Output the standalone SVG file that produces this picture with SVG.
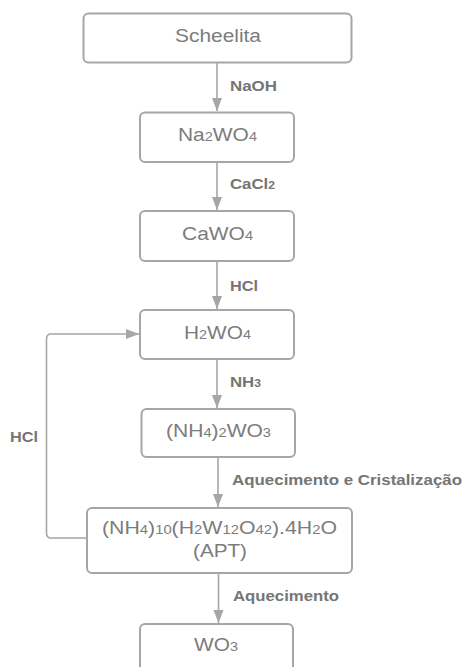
<svg xmlns="http://www.w3.org/2000/svg" width="463" height="667" viewBox="0 0 463 667">
<style>
.box{fill:#fff;stroke:#a6a6a6;stroke-width:2}
.nt{font-family:"Liberation Sans",Arial,sans-serif;font-size:18px;fill:#7c7c7c}
.lb{font-family:"Liberation Sans",Arial,sans-serif;font-size:14.5px;font-weight:bold;fill:#757575}
.sub{font-size:12.5px}
.sb{font-size:10.5px}
.cn{fill:none;stroke:#a6a6a6;stroke-width:1.6}
</style>
<defs>
<marker id="ah" markerUnits="userSpaceOnUse" markerWidth="14" markerHeight="12" refX="13" refY="5" orient="auto">
<path d="M0,0 L13,5 L0,10 Z" fill="#a6a6a6"/>
</marker>
</defs>
<rect width="463" height="667" fill="#fff"/>
<g id="connectors">
<line class="cn" x1="217" y1="63" x2="217" y2="111" marker-end="url(#ah)"/>
<line class="cn" x1="217" y1="162" x2="217" y2="210" marker-end="url(#ah)"/>
<line class="cn" x1="217" y1="261" x2="217" y2="309" marker-end="url(#ah)"/>
<line class="cn" x1="217" y1="359" x2="217" y2="408" marker-end="url(#ah)"/>
<line class="cn" x1="218" y1="457" x2="218" y2="507" marker-end="url(#ah)"/>
<line class="cn" x1="218.5" y1="573" x2="218.5" y2="623" marker-end="url(#ah)"/>
<path class="cn" d="M87,538 H51 Q46.5,538 46.5,533 V339 Q46.5,334 51,334 H139" marker-end="url(#ah)"/>
<text class="lb" x="230" y="91" textLength="47" lengthAdjust="spacingAndGlyphs">NaOH</text>
<text class="lb" x="230" y="189" textLength="45" lengthAdjust="spacingAndGlyphs">CaCl<tspan class="sb">2</tspan></text>
<text class="lb" x="230" y="291" textLength="28" lengthAdjust="spacingAndGlyphs">HCl</text>
<text class="lb" x="230" y="387" textLength="31" lengthAdjust="spacingAndGlyphs">NH<tspan class="sb">3</tspan></text>
<text class="lb" x="10" y="442" textLength="28" lengthAdjust="spacingAndGlyphs">HCl</text>
<text class="lb" x="232" y="485" textLength="230" lengthAdjust="spacingAndGlyphs">Aquecimento e Cristalização</text>
<text class="lb" x="233" y="601" textLength="106" lengthAdjust="spacingAndGlyphs">Aquecimento</text>
</g>
<g id="n1">
<rect class="box" x="83.5" y="13.5" width="268" height="49" rx="5"/>
<text class="nt" x="175" y="42" textLength="86" lengthAdjust="spacingAndGlyphs">Scheelita</text>
</g>
<g id="n2">
<rect class="box" x="140" y="112.5" width="154" height="49.5" rx="5"/>
<text class="nt" x="178" y="141" textLength="79" lengthAdjust="spacingAndGlyphs">Na<tspan class="sub">2</tspan>WO<tspan class="sub">4</tspan></text>
</g>
<g id="n3">
<rect class="box" x="140" y="211" width="154" height="50" rx="5"/>
<text class="nt" x="182" y="239.5" textLength="71" lengthAdjust="spacingAndGlyphs">CaWO<tspan class="sub">4</tspan></text>
</g>
<g id="n4">
<rect class="box" x="140" y="310" width="154" height="49" rx="5"/>
<text class="nt" x="184" y="338.5" textLength="67" lengthAdjust="spacingAndGlyphs">H<tspan class="sub">2</tspan>WO<tspan class="sub">4</tspan></text>
</g>
<g id="n5">
<rect class="box" x="141.5" y="409" width="153.5" height="48" rx="5"/>
<text class="nt" x="166" y="437" textLength="105" lengthAdjust="spacingAndGlyphs">(NH<tspan class="sub">4</tspan>)<tspan class="sub">2</tspan>WO<tspan class="sub">3</tspan></text>
</g>
<g id="n6">
<rect class="box" x="87" y="508" width="265" height="65" rx="5"/>
<text class="nt" x="102" y="533.5" textLength="235" lengthAdjust="spacingAndGlyphs">(NH<tspan class="sub">4</tspan>)<tspan class="sub">10</tspan>(H<tspan class="sub">2</tspan>W<tspan class="sub">12</tspan>O<tspan class="sub">42</tspan>).4H<tspan class="sub">2</tspan>O</text>
<text class="nt" x="193" y="556.5" textLength="54" lengthAdjust="spacingAndGlyphs">(APT)</text>
</g>
<g id="n7">
<rect class="box" x="140" y="624" width="153" height="60" rx="5"/>
<text class="nt" x="194" y="651" textLength="44" lengthAdjust="spacingAndGlyphs">WO<tspan class="sub">3</tspan></text>
</g>
</svg>
